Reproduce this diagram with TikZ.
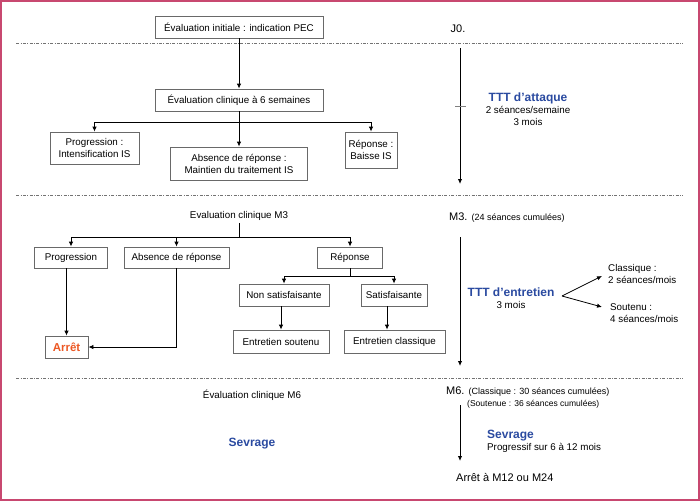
\documentclass[tikz,border=0pt]{standalone}
\usepackage{fontspec}
\setmainfont{Liberation Sans}
\usetikzlibrary{arrows.meta}

\definecolor{framered}{RGB}{200,72,112}
\definecolor{tttblue}{RGB}{42,74,160}
\definecolor{arretorange}{RGB}{236,88,36}
\definecolor{boxgray}{RGB}{105,105,105}

\newcommand{\maintxt}{\fontsize{9.8}{12}\selectfont}
\newcommand{\smalltxt}{\fontsize{9}{11}\selectfont}
\newcommand{\steptxt}{\fontsize{11}{13}\selectfont}
\newcommand{\tttfont}{\fontsize{12}{13}\selectfont\bfseries\color{tttblue}}

\begin{document}
\begin{tikzpicture}[x=1pt, y=-1pt, >={Latex[length=5pt,width=4.4pt]},
    box/.style={draw=boxgray, line width=0.8pt, inner sep=0pt, minimum height=22pt, align=center, font=\maintxt},
    txt/.style={inner sep=0pt, align=center, font=\maintxt},
    link/.style={->, line width=0.8pt},
    timeline/.style={->, line width=0.9pt},
    sepline/.style={black!55, line width=0.75pt, dash pattern=on 3pt off 1.5pt on 0.8pt off 1.5pt},
    ttt/.style={inner sep=0pt, align=center, font=\tttfont}]
    \useasboundingbox (0,0) rectangle (700,501);
    % Frame
    \draw[framered, line width=1.6pt] (0.8,0.8) rectangle (699.2,500.2);

    % Separators between the phases
    \draw[sepline] (16,43) -- (683,43);
    \draw[sepline] (16,195) -- (683,195);
    \draw[sepline] (16,378) -- (683,378);

    % Attack phase
    \node[box, minimum width=168pt] (init) at (239,27) {Évaluation initiale : indication PEC};
    \node[box, minimum width=168pt] (eval6) at (239,100) {Évaluation clinique à 6 semaines};
    \node[box, minimum width=89pt, minimum height=32pt] (prog1) at (94.5,148) {Progression :\\Intensification IS};
    \node[box, minimum width=137pt, minimum height=33pt] (abs1) at (239,163.5) {Absence de réponse :\\Maintien du traitement IS};
    \node[box, minimum width=52pt, minimum height=36pt] (rep1) at (371,150) {Réponse :\\Baisse IS};
    \coordinate (fork1) at (239,122);
    \draw[link] (init) -- (eval6);
    \draw[link] (eval6) -- (abs1);
    \draw[link] (fork1) -| (prog1);
    \draw[link] (fork1) -| (rep1);

    % Maintenance phase
    \node[txt] (evm3) at (239,216) {Evaluation clinique M3};
    \coordinate (fork2) at (239,237);
    \node[box, minimum width=73pt, minimum height=21pt] (prog2) at (71,257.5) {Progression};
    \node[box, minimum width=105pt, minimum height=21pt] (abs2) at (176.5,257.5) {Absence de réponse};
    \node[box, minimum width=65pt, minimum height=21pt] (rep2) at (350,257.5) {Réponse};
    \draw[line width=0.8pt] ([yshift=-2pt]evm3.south) -- (fork2);
    \draw[link] (fork2) -| (prog2);
    \draw[link] (fork2) -| (abs2);
    \draw[link] (fork2) -| (rep2);

    \coordinate (fork3) at (350,276);
    \node[box, minimum width=90pt] (nonsat) at (284,295) {Non satisfaisante};
    \node[box, minimum width=66pt] (sat) at (394,295) {Satisfaisante};
    \draw[line width=0.8pt] (rep2) -- (fork3);
    \draw[link] (fork3) -| (nonsat);
    \draw[link] (fork3) -| (sat);

    \node[box, minimum width=96pt, minimum height=23pt] (entsout) at (281,341.5) {Entretien soutenu};
    \node[box, minimum width=101pt, minimum height=23pt] (entclass) at (394.5,341.5) {Entretien classique};
    \draw[link] (nonsat.south -| entsout) -- (entsout);
    \draw[link] ([xshift=-7pt]sat.south) -- ([xshift=-7.5pt]entclass.north);

    \node[box, minimum width=43pt, font=\fontsize{11.5}{12}\selectfont\bfseries, text=arretorange] (arret) at (66.5,347) {Arrêt};
    \draw[link] (prog2.south -| arret) -- (arret);
    \draw[link] (abs2) |- (arret);

    % Weaning
    \node[txt] (evm6) at (252,395) {Évaluation clinique M6};
    \node[ttt] (sevr1) at (252,444) {Sevrage};

    % Time line on the right
    \node[txt, font=\steptxt] (j0) at (458,29) {J0.};
    \coordinate (t1a) at (460,48);
    \coordinate (t1b) at (460,184);
    \draw[timeline] (t1a) -- (t1b);
    \draw[black!50, line width=1pt] (455,106) -- (466,106);
    \node[txt] (attaque) at (528,109) {{\tttfont TTT d’attaque}\\2 séances/semaine\\3 mois};

    \node[txt, anchor=west, font=\steptxt] (m3) at (449,218) {M3. {\smalltxt(24 séances cumulées)}};
    \coordinate (t2a) at (460,237);
    \coordinate (t2b) at (460,366);
    \draw[timeline] (t2a) -- (t2b);
    \node[txt] (entretien) at (511,298) {{\tttfont TTT d’entretien}\\3 mois};
    \coordinate (fork4) at (562,296);
    \node[txt, anchor=west, align=left] (cls) at (608,274) {Classique :\\2 séances/mois};
    \node[txt, anchor=west, align=left] (sout) at (610,313) {Soutenu :\\4 séances/mois};
    \draw[link] (fork4) -- ([xshift=-6pt,yshift=-2pt]cls.west);
    \draw[link] (fork4) -- ([xshift=-8pt,yshift=6pt]sout.west);

    \node[txt, anchor=west, font=\steptxt] (m6) at (446,392) {M6. {\smalltxt(Classique : 30 séances cumulées)}};
    \node[txt, anchor=west, font=\fontsize{8.5}{10}\selectfont] (m6b) at (467,404) {(Soutenue : 36 séances cumulées)};
    \coordinate (t3a) at (460,405);
    \coordinate (t3b) at (460,461);
    \draw[timeline] (t3a) -- (t3b);
    \node[txt, anchor=west, align=left] (sevr2) at (487,441) {{\tttfont Sevrage}\\Progressif sur 6 à 12 mois};
    \node[txt, anchor=west, font=\steptxt] (fin) at (456,477) {Arrêt à M12 ou M24};
\end{tikzpicture}
\end{document}
